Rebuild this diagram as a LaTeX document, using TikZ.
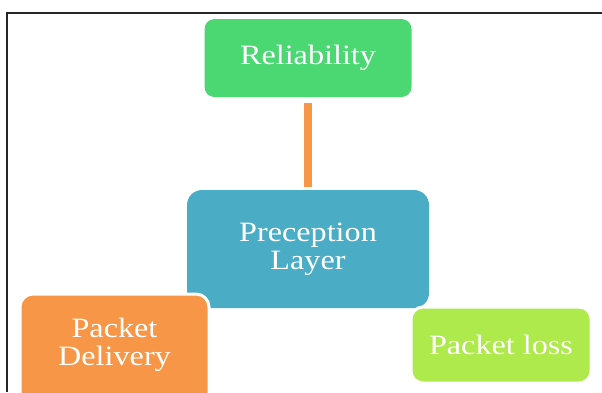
\documentclass[tikz,border=0pt]{standalone}
\usepackage{fontspec}
\setmainfont{Liberation Serif}[FakeStretch=1.15]
\definecolor{relgreen}{RGB}{75,216,115}
\definecolor{layblue}{RGB}{75,172,198}
\definecolor{delorange}{RGB}{247,150,70}
\definecolor{lossgreen}{RGB}{174,234,76}
\begin{document}
\begin{tikzpicture}[x=1pt,y=-1pt,
  box/.style={rectangle, inner sep=0pt, align=center, text=white,
    font=\fontsize{28}{28}\selectfont},
  outlined/.style={draw=white, line width=3pt},
  link/.style={draw=delorange, line width=8pt, line cap=butt}]
\useasboundingbox (0,0) rectangle (602,392);
\clip (0,0) rectangle (602,392);
% frame (top and left)
\draw[line width=2pt, black!85] (602,12.5) -- (6.8,12.5) -- (6.8,392);
% nodes
\node[box, fill=relgreen, rounded corners=10pt, minimum width=207pt, minimum height=78pt]
  (rel) at (308,58) {Reliability};
\node[box, fill=layblue, rounded corners=15pt, minimum width=242pt, minimum height=118pt]
  (layer) at (308,249) {Preception\\Layer};
\node[box, outlined, fill=delorange, rounded corners=13pt, minimum width=189pt, minimum height=112pt, text depth=17pt]
  (del) at (114.5,350) {Packet\\Delivery};
\node[box, outlined, fill=lossgreen, rounded corners=12pt, minimum width=180pt, minimum height=76pt]
  (loss) at (501,345) {Packet loss};
% connector
\draw[link, shorten <=6pt, shorten >=3pt] (rel.south) -- (layer.north);
\end{tikzpicture}
\end{document}
